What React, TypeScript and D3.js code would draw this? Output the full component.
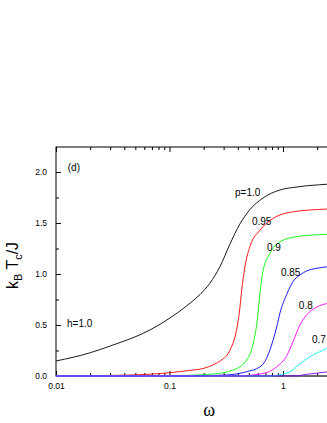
import React, { useEffect, useRef } from 'react';
import * as d3 from 'd3';

// [omega, kBTc/J], one list per p
const p100 = [[0.01, 0.147], [0.02, 0.228], [0.03, 0.294], [0.0673, 0.451], [0.101, 0.569], [0.152, 0.715], [0.186, 0.8], [0.227, 0.91], [0.278, 1.07], [0.34, 1.29], [0.417, 1.49], [0.51, 1.63], [0.667, 1.745], [0.942, 1.824], [1.33, 1.853], [2.44, 1.88], [5, 1.895]];
const p095 = [[0.01, 0.001], [0.04, 0.008], [0.1, 0.032], [0.152, 0.055], [0.2, 0.075], [0.241, 0.108], [0.29, 0.16], [0.322, 0.206], [0.35, 0.28], [0.378, 0.385], [0.4, 0.52], [0.412, 0.615], [0.433, 0.843], [0.462, 1.07], [0.512, 1.27], [0.627, 1.43], [0.822, 1.546], [1.233, 1.61], [2.43, 1.637], [5, 1.65]];
const p090 = [[0.01, 0], [0.1, 0.003], [0.243, 0.02], [0.365, 0.059], [0.479, 0.157], [0.547, 0.32], [0.594, 0.55], [0.627, 0.81], [0.67, 1.04], [0.767, 1.2], [0.942, 1.317], [1.32, 1.366], [2.43, 1.39], [5, 1.4]];
const p085 = [[0.01, 0], [0.15, 0.001], [0.322, 0.01], [0.479, 0.042], [0.627, 0.09], [0.7, 0.15], [0.767, 0.255], [0.88, 0.48], [0.942, 0.62], [1.079, 0.8], [1.233, 0.93], [1.41, 0.99], [1.62, 1.03], [1.98, 1.056], [2.43, 1.07], [5, 1.09]];
const p080 = [[0.01, 0], [0.4, 0.001], [0.627, 0.02], [0.88, 0.09], [1.08, 0.2], [1.23, 0.34], [1.41, 0.5], [1.62, 0.6], [1.98, 0.675], [2.43, 0.71], [5, 0.75]];
const p070 = [[0.01, 0], [0.8, 0.001], [1.0, 0.02], [1.15, 0.04], [1.41, 0.12], [1.73, 0.19], [2.26, 0.255], [2.43, 0.275], [5, 0.45]];
const p060 = [[0.01, 0], [1.3, 0.001], [1.62, 0.017], [2.43, 0.04], [5, 0.15]];

const series = [
  { data: p100, color: '#000000' },
  { data: p095, color: '#ff0000' },
  { data: p090, color: '#00ff00' },
  { data: p085, color: '#0000ff' },
  { data: p080, color: '#ff00ff' },
  { data: p070, color: '#00ffff' },
  { data: p060, color: '#8000ff' },
];

// annotation text with anchor in data units
const labels = [
  { text: 'p=1.0', x: 0.378, y: 1.765 },
  { text: '0.95', x: 0.533, y: 1.485 },
  { text: '0.9', x: 0.723, y: 1.23 },
  { text: '0.85', x: 0.96, y: 0.985 },
  { text: '0.8', x: 1.38, y: 0.652 },
  { text: '0.7', x: 1.8, y: 0.319 },
  { text: 'h=1.0', x: 0.0125, y: 0.48 },
  { text: '(d)', x: 0.0127, y: 2.01 },
];

const xMajor = [0.01, 0.1, 1];
const yMajor = [0, 0.5, 1.0, 1.5, 2.0];

const App = () => {
  const svgRef = useRef(null);

  useEffect(() => {
    const svg = d3.select(svgRef.current);
    svg.selectAll('*').remove();

    const left = 56, right = 362.3, top = 147, bottom = 376;
    const x = d3.scaleLog().domain([0.01, 5]).range([left, right]);
    const y = d3.scaleLinear().domain([0, 2.245]).range([bottom, top]);

    const xMinor = x.ticks().filter((t) => !xMajor.some((m) => Math.abs(m - t) < 1e-9));
    const yMinor = d3.range(0.25, 2.25, 0.5);

    const font = 'Arial, "Liberation Sans", sans-serif';

    const styleAxis = (g) => {
      g.selectAll('line').attr('stroke', '#000');
      g.selectAll('text').attr('font-family', font).attr('font-size', 8.5).attr('fill', '#000');
      g.select('.domain').remove();
    };

    // bottom
    svg.append('g').attr('transform', `translate(0,${bottom})`)
      .call(d3.axisBottom(x).tickValues(xMajor).tickSize(-5).tickSizeOuter(0).tickPadding(7).tickFormat(d3.format('')))
      .call(styleAxis);
    svg.append('g').attr('transform', `translate(0,${bottom})`)
      .call(d3.axisBottom(x).tickValues(xMinor).tickSize(-3).tickFormat(() => ''))
      .call(styleAxis);
    // top
    svg.append('g').attr('transform', `translate(0,${top})`)
      .call(d3.axisTop(x).tickValues(xMajor).tickSize(-5).tickFormat(() => ''))
      .call(styleAxis);
    svg.append('g').attr('transform', `translate(0,${top})`)
      .call(d3.axisTop(x).tickValues(xMinor).tickSize(-3).tickFormat(() => ''))
      .call(styleAxis);
    // left
    svg.append('g').attr('transform', `translate(${left},0)`)
      .call(d3.axisLeft(y).tickValues(yMajor).tickSize(-5).tickPadding(9).tickFormat(d3.format('.1f')))
      .call(styleAxis);
    svg.append('g').attr('transform', `translate(${left},0)`)
      .call(d3.axisLeft(y).tickValues(yMinor).tickSize(-3).tickFormat(() => ''))
      .call(styleAxis);
    // right (off screen mostly)
    svg.append('g').attr('transform', `translate(${right},0)`)
      .call(d3.axisRight(y).tickValues(yMajor).tickSize(-5).tickFormat(() => ''))
      .call(styleAxis);

    // frame
    svg.append('rect')
      .attr('x', left).attr('y', top)
      .attr('width', right - left).attr('height', bottom - top)
      .attr('fill', 'none').attr('stroke', '#000').attr('stroke-width', 1);
    svg.append('line')
      .attr('x1', left).attr('x2', right).attr('y1', bottom).attr('y2', bottom)
      .attr('stroke', '#666').attr('stroke-width', 1.6);

    const line = d3.line()
      .x((d) => x(d[0]))
      .y((d) => y(d[1]))
      .curve(d3.curveMonotoneX);

    svg.selectAll('.curve')
      .data(series)
      .join('path')
      .attr('class', 'curve')
      .attr('d', (d) => line(d.data))
      .attr('fill', 'none')
      .attr('stroke', (d) => d.color)
      .attr('stroke-width', 0.9);

    svg.selectAll('.lab')
      .data(labels)
      .join('text')
      .attr('class', 'lab')
      .attr('x', (d) => x(d.x))
      .attr('y', (d) => y(d.y))
      .attr('font-family', font)
      .attr('font-size', 10)
      .text((d) => d.text);

    // axis titles
    const yt = svg.append('text')
      .attr('transform', `translate(18,${(top + bottom) / 2 + 4}) rotate(-90)`)
      .attr('text-anchor', 'middle')
      .attr('font-family', font)
      .attr('font-size', 16);
    yt.append('tspan').text('k');
    yt.append('tspan').attr('font-size', 11).attr('dy', 4).text('B');
    yt.append('tspan').attr('dy', -4).text(' T');
    yt.append('tspan').attr('font-size', 11).attr('dy', 4).text('c');
    yt.append('tspan').attr('dy', -4).text('/J');

    svg.append('text')
      .attr('x', (left + right) / 2)
      .attr('y', 416)
      .attr('text-anchor', 'middle')
      .attr('font-family', '"Liberation Serif", "DejaVu Serif", serif')
      .attr('font-size', 18)
      .text('ω');
  }, []);

  return (
    <svg
      ref={svgRef}
      width={327}
      height={423}
      style={{ position: 'absolute', left: 0, top: 0, background: '#fff' }}
    />
  );
};

export default App;
